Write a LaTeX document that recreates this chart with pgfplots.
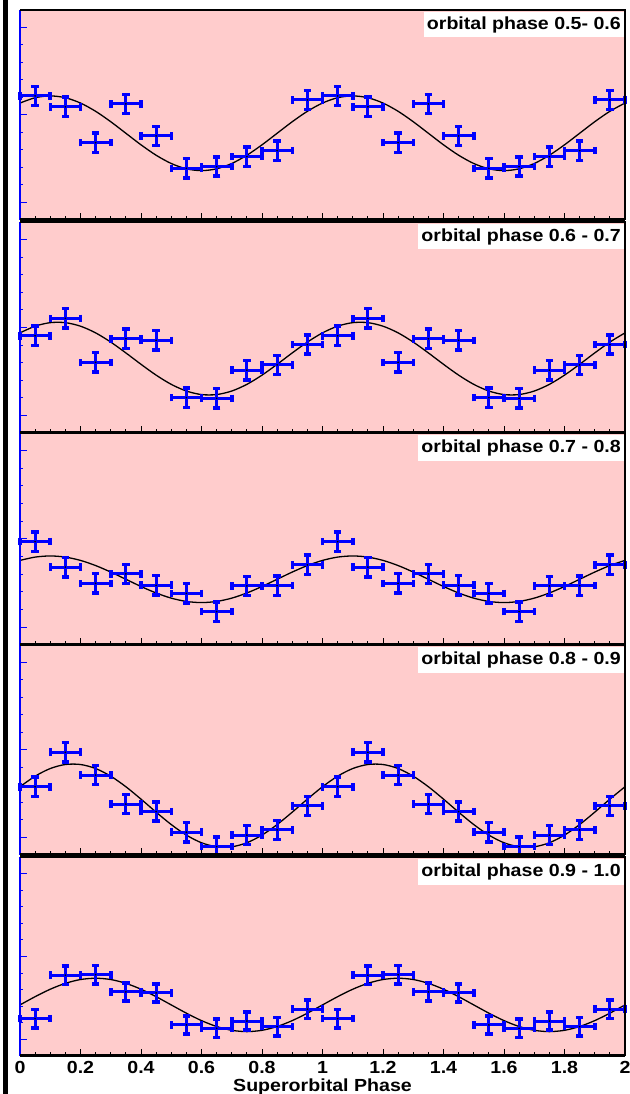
\documentclass[border=0pt]{standalone}
\usepackage{pgfplots}
\usepackage{pgfplotstable}
\pgfplotsset{compat=1.18}
\usepackage{fontspec}
\setmainfont{Liberation Sans}
\newfontfamily\pf{Liberation Sans}[FakeStretch=1.12]
\definecolor{pinkbg}{RGB}{255,204,204}
\definecolor{eb}{RGB}{0,0,255}

\pgfplotstableread{
x p1 p2 p3 p4 p5 ex ey
0.05 7.09 5.53 5.85 3.90 2.25 0.05 0.55
0.15 6.47 6.52 4.41 5.87 4.87 0.05 0.55
0.25 4.42 4.02 3.49 4.57 4.90 0.05 0.55
0.35 6.63 5.36 4.02 2.91 3.86 0.05 0.55
0.45 4.80 5.27 3.38 2.48 3.80 0.05 0.55
0.55 2.95 2.01 2.92 1.30 1.87 0.05 0.55
0.65 3.05 1.97 1.89 0.48 1.67 0.05 0.55
0.75 3.62 3.57 3.34 1.14 2.11 0.05 0.55
0.85 3.96 3.87 3.36 1.43 1.77 0.05 0.55
0.95 6.86 5.03 4.53 2.80 2.82 0.05 0.55
1.05 7.09 5.53 5.85 3.90 2.25 0.05 0.55
1.15 6.47 6.52 4.41 5.87 4.87 0.05 0.55
1.25 4.42 4.02 3.49 4.57 4.90 0.05 0.55
1.35 6.63 5.36 4.02 2.91 3.86 0.05 0.55
1.45 4.80 5.27 3.38 2.48 3.80 0.05 0.55
1.55 2.95 2.01 2.92 1.30 1.87 0.05 0.55
1.65 3.05 1.97 1.89 0.48 1.67 0.05 0.55
1.75 3.62 3.57 3.34 1.14 2.11 0.05 0.55
1.85 3.96 3.87 3.36 1.43 1.77 0.05 0.55
1.95 6.86 5.03 4.53 2.80 2.82 0.05 0.55
}\data

\pgfplotstableread{
x c1 c2 c3 c4 c5
0.00 6.682 5.694 4.788 3.901 3.080
0.05 6.986 6.074 4.975 4.503 3.577
0.10 7.090 6.275 5.040 4.941 4.026
0.15 6.986 6.275 4.975 5.171 4.382
0.20 6.682 6.074 4.788 5.171 4.611
0.25 6.210 5.694 4.496 4.941 4.690
0.30 5.615 5.170 4.128 4.503 4.611
0.35 4.955 4.554 3.720 3.901 4.382
0.40 4.295 3.906 3.312 3.192 4.026
0.45 3.700 3.290 2.944 2.448 3.577
0.50 3.228 2.766 2.652 1.739 3.080
0.55 2.924 2.386 2.465 1.137 2.583
0.60 2.820 2.185 2.400 0.699 2.134
0.65 2.924 2.185 2.465 0.469 1.778
0.70 3.228 2.386 2.652 0.469 1.549
0.75 3.700 2.766 2.944 0.699 1.470
0.80 4.295 3.290 3.312 1.137 1.549
0.85 4.955 3.906 3.720 1.739 1.778
0.90 5.615 4.554 4.128 2.448 2.134
0.95 6.210 5.170 4.496 3.192 2.583
1.00 6.682 5.694 4.788 3.901 3.080
1.05 6.986 6.074 4.975 4.503 3.577
1.10 7.090 6.275 5.040 4.941 4.026
1.15 6.986 6.275 4.975 5.171 4.382
1.20 6.682 6.074 4.788 5.171 4.611
1.25 6.210 5.694 4.496 4.941 4.690
1.30 5.615 5.170 4.128 4.503 4.611
1.35 4.955 4.554 3.720 3.901 4.382
1.40 4.295 3.906 3.312 3.192 4.026
1.45 3.700 3.290 2.944 2.448 3.577
1.50 3.228 2.766 2.652 1.739 3.080
1.55 2.924 2.386 2.465 1.137 2.583
1.60 2.820 2.185 2.400 0.699 2.134
1.65 2.924 2.185 2.465 0.469 1.778
1.70 3.228 2.386 2.652 0.469 1.549
1.75 3.700 2.766 2.944 0.699 1.470
1.80 4.295 3.290 3.312 1.137 1.549
1.85 4.955 3.906 3.720 1.739 1.778
1.90 5.615 4.554 4.128 2.448 2.134
1.95 6.210 5.170 4.496 3.192 2.583
2.00 6.682 5.694 4.788 3.901 3.080
}\curves

\pgfplotsset{
  panel/.style={
    anchor=north west,
    width=605pt, scale only axis,
    xmin=0, xmax=2, ymin=0, ymax=12,
    axis background/.style={fill=pinkbg},
    axis line style={draw=none},
    xtick={0,0.2,0.4,0.6,0.8,1,1.2,1.4,1.6,1.8,2},
    minor x tick num=3,
    ytick={1,6,11}, minor ytick={2,3,4,5,7,8,9,10},
    tick align=inside, xtick pos=bottom, ytick pos=left,
    major tick length=7pt, minor tick length=3.5pt,
    x tick style={black, line width=1pt},
    y tick style={eb, line width=1pt},
    xticklabels={}, yticklabels={},
    /pgf/number format/assume math mode=true,
    clip=false,
  },
}
\newcommand{\pfont}{\pf\bfseries\fontsize{17.5}{21}\selectfont}
\newcommand{\panel}[5]{%
\begin{axis}[panel, at={(20pt,#1pt)}, height=#2pt, #5]
\addplot[black, line width=1.3pt, smooth, no marks] table[x=x, y=c#3] {\curves};
\addplot[only marks, mark=*, mark size=0.6pt, black,
  error bars/.cd, x dir=both, x explicit, y dir=both, y explicit,
  error bar style={eb, line width=3pt},
  error mark=|,
  error mark options={eb, line width=3.5pt, mark size=3.8pt}]
  table[x=x, y=p#3, x error=ex, y error=ey] {\data};
\draw[eb, line width=1.2pt] (rel axis cs:0,0) -- (rel axis cs:0,1);
\draw[black, line width=1.2pt] (rel axis cs:0,1) -- (rel axis cs:1,1) -- (rel axis cs:1,0);
\draw[black, line width=3pt] (rel axis cs:0,0) -- (rel axis cs:1,0);
\node[anchor=north east, fill=white, inner xsep=3pt, inner ysep=4.5pt, font=\pfont]
  at ([xshift=-1pt, yshift=-2pt]rel axis cs:1,1) {#4};
\end{axis}}

\begin{document}
\begin{tikzpicture}[x=1pt, y=1pt]
\path[use as bounding box] (0,0) rectangle (629,1094);
\fill[white] (0,0) rectangle (629,1094);
\fill[black] (3,0) rectangle (8,1094);
\panel{1084}{210}{1}{orbital phase 0.5- 0.6}{}
\panel{872}{211}{2}{orbital phase 0.6 - 0.7}{}
\panel{661}{212}{3}{orbital phase 0.7 - 0.8}{}
\panel{449}{210}{4}{orbital phase 0.8 - 0.9}{}
\panel{237}{199}{5}{orbital phase 0.9 - 1.0}{xticklabels={0,0.2,0.4,0.6,0.8,1,1.2,1.4,1.6,1.8,2},
  xticklabel style={font=\pfont, yshift=-2pt},
  xlabel={Superorbital Phase},
  xlabel style={font=\pfont, at={(axis description cs:0.5,0)}, anchor=base, yshift=-36pt}}
\end{tikzpicture}
\end{document}
